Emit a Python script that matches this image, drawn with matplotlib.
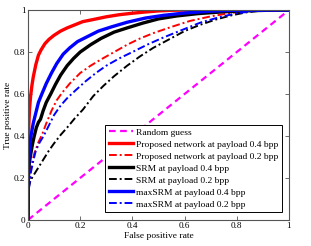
import numpy as np
import matplotlib
matplotlib.use("Agg")
import matplotlib.pyplot as plt

plt.rcParams['font.family'] = ['Liberation Serif', 'DejaVu Serif']

# ROC-kurver (FPR, TPR)
random_fpr = [0, 1]
random_tpr = [0, 1]

prop04_fpr = [0, 0.001, 0.003, 0.006, 0.01, 0.015, 0.02, 0.03, 0.04, 0.05, 0.065, 0.08, 0.1,
              0.125, 0.15, 0.18, 0.21, 0.25, 0.3, 0.35, 0.4, 0.45, 0.5, 0.55, 0.6, 1]
prop04_tpr = [0, 0.3, 0.45, 0.53, 0.59, 0.64, 0.68, 0.74, 0.785, 0.81, 0.84, 0.86, 0.88,
              0.9, 0.915, 0.93, 0.945, 0.955, 0.968, 0.978, 0.985, 0.991, 0.996, 0.999, 1, 1]

prop02_fpr = [0, 0.003, 0.008, 0.015, 0.025, 0.04, 0.055, 0.07, 0.09, 0.11, 0.13, 0.16, 0.2,
              0.24, 0.28, 0.33, 0.38, 0.43, 0.48, 0.55, 0.62, 0.7, 0.78, 0.86, 0.93, 1]
prop02_tpr = [0, 0.15, 0.22, 0.27, 0.32, 0.37, 0.41, 0.46, 0.52, 0.57, 0.605, 0.65, 0.7,
              0.735, 0.765, 0.8, 0.835, 0.865, 0.89, 0.92, 0.948, 0.97, 0.987, 0.996, 1, 1]

srm04_fpr = [0, 0.001, 0.005, 0.01, 0.017, 0.024, 0.032, 0.04, 0.048, 0.058, 0.07, 0.087,
             0.105, 0.125, 0.15, 0.175, 0.2, 0.24, 0.28, 0.33, 0.38, 0.44, 0.5, 0.57, 0.65,
             0.75, 0.85, 0.95, 1]
srm04_tpr = [0, 0.2, 0.27, 0.31, 0.36, 0.4, 0.44, 0.465, 0.48, 0.52, 0.56, 0.6,
             0.645, 0.69, 0.735, 0.77, 0.8, 0.835, 0.865, 0.895, 0.915, 0.938, 0.958, 0.972, 0.983,
             0.992, 0.997, 1, 1]

srm02_fpr = [0, 0.002, 0.01, 0.025, 0.04, 0.06, 0.08, 0.1, 0.125, 0.15, 0.18, 0.21, 0.25,
             0.29, 0.33, 0.38, 0.43, 0.48, 0.54, 0.6, 0.66, 0.72, 0.78, 0.84, 0.9, 0.95, 1]
srm02_tpr = [0, 0.15, 0.19, 0.22, 0.25, 0.29, 0.33, 0.365, 0.405, 0.44, 0.485, 0.525, 0.59,
             0.64, 0.685, 0.735, 0.78, 0.82, 0.86, 0.9, 0.93, 0.955, 0.975, 0.99, 0.998, 1, 1]

maxsrm04_fpr = [0, 0.002, 0.005, 0.01, 0.02, 0.03, 0.04, 0.053, 0.07, 0.09, 0.11, 0.135,
                0.16, 0.19, 0.23, 0.27, 0.32, 0.38, 0.45, 0.52, 0.6, 0.7, 0.8, 0.9, 1]
maxsrm04_tpr = [0, 0.25, 0.33, 0.39, 0.46, 0.51, 0.56, 0.6, 0.65, 0.7, 0.745, 0.79,
                0.82, 0.85, 0.875, 0.9, 0.92, 0.942, 0.962, 0.975, 0.986, 0.995, 0.999, 1, 1]

maxsrm02_fpr = [0, 0.003, 0.01, 0.02, 0.03, 0.045, 0.06, 0.08, 0.1, 0.125, 0.15, 0.18, 0.22,
                0.26, 0.3, 0.35, 0.4, 0.46, 0.52, 0.59, 0.66, 0.73, 0.8, 0.87, 0.95, 1]
maxsrm02_tpr = [0, 0.14, 0.22, 0.28, 0.33, 0.37, 0.4, 0.45, 0.5, 0.545, 0.58, 0.615, 0.66,
                0.7, 0.735, 0.77, 0.8, 0.837, 0.87, 0.905, 0.94, 0.965, 0.985, 0.996, 1, 1]

ticks = [0, 0.2, 0.4, 0.6, 0.8, 1]
tick_labels = ['0', '0.2', '0.4', '0.6', '0.8', '1']

fig = plt.figure(figsize=(3.11, 2.46), dpi=100)
ax = fig.add_axes([0.090, 0.106, 0.839, 0.853])

dashdot = (0, (4, 1.5, 1, 1.5))
ax.plot(random_fpr, random_tpr, color='#ff00ff', ls=(0, (3, 2)), lw=1.6, label='Random guess')
ax.plot(prop04_fpr, prop04_tpr, color='red', lw=2.4, label='Proposed network at payload 0.4 bpp')
ax.plot(prop02_fpr, prop02_tpr, color='red', ls=dashdot, lw=1.4,
        label='Proposed network at payload 0.2 bpp')
ax.plot(srm04_fpr, srm04_tpr, color='black', lw=2.4, label='SRM at payload 0.4 bpp')
ax.plot(srm02_fpr, srm02_tpr, color='black', ls=dashdot, lw=1.4,
        label='SRM at payload 0.2 bpp')
ax.plot(maxsrm04_fpr, maxsrm04_tpr, color='blue', lw=2.4, label='maxSRM at payload 0.4 bpp')
ax.plot(maxsrm02_fpr, maxsrm02_tpr, color='blue', ls=dashdot, lw=1.4,
        label='maxSRM at payload 0.2 bpp')

ax.set_xlim(0, 1)
ax.set_ylim(0, 1)
ax.set_xticks(ticks)
ax.set_xticklabels(tick_labels)
ax.set_yticks(ticks)
ax.set_yticklabels(tick_labels)
ax.tick_params(direction='in', top=True, right=True, length=3, width=0.6,
               labelsize=6.6, pad=1.8, color='#555555')
for s in ax.spines.values():
    s.set_color('#555555')
    s.set_linewidth(0.8)

ax.set_xlabel('False positive rate', fontsize=6.8, labelpad=1)
ax.set_ylabel('True positive rate', fontsize=6.8, labelpad=1.5)

leg = ax.legend(loc='lower right', bbox_to_anchor=(0.973, 0.038), borderaxespad=0,
                fontsize=6.8, fancybox=False, framealpha=1, edgecolor='black',
                handlelength=2.6, handletextpad=0.3, labelspacing=0.36,
                borderpad=0.35)
leg.get_frame().set_linewidth(0.7)

fig.savefig('out.png', dpi=100)
